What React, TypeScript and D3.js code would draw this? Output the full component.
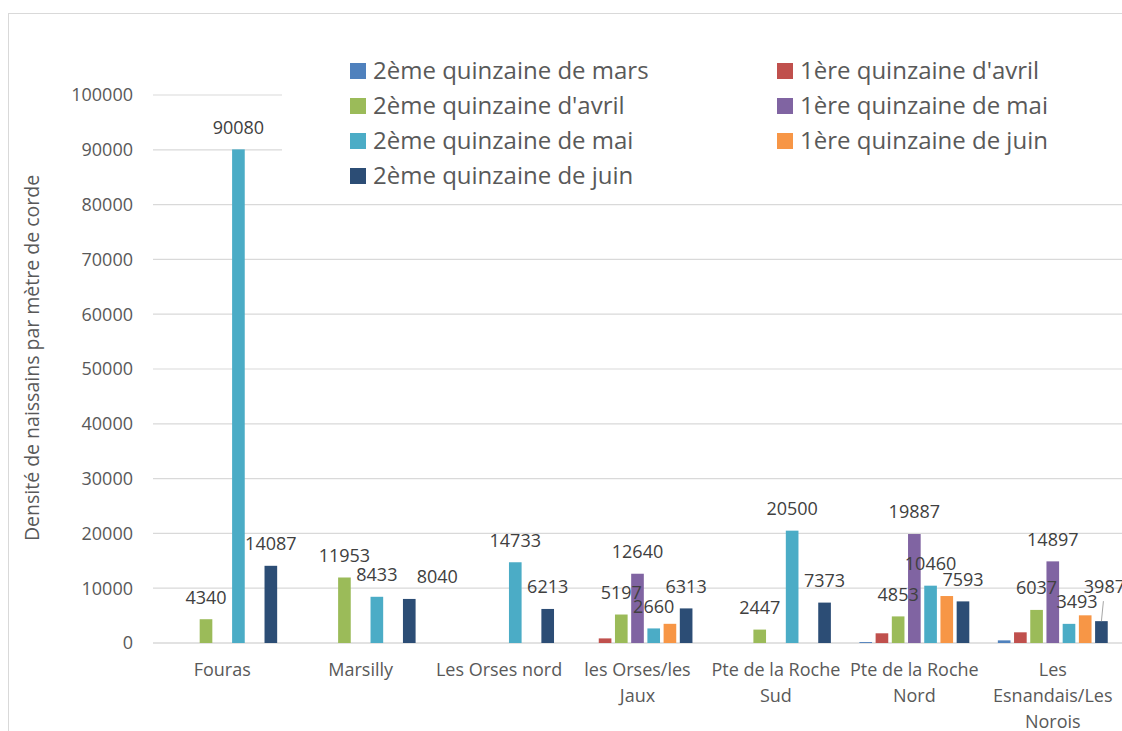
import React from 'react';
import * as d3 from 'd3';

const categories = [
  'Fouras',
  'Marsilly',
  'Les Orses nord',
  'les Orses/les Jaux',
  'Pte de la Roche Sud',
  'Pte de la Roche Nord',
  'Les Esnandais/Les Norois',
];

// wrapped tick labels, as the original wraps them
const categoryLines = [
  ['Fouras'],
  ['Marsilly'],
  ['Les Orses nord'],
  ['les Orses/les', 'Jaux'],
  ['Pte de la Roche', 'Sud'],
  ['Pte de la Roche', 'Nord'],
  ['Les', 'Esnandais/Les', 'Norois'],
];

const seriesNames = [
  '2ème quinzaine de mars',
  "1ère quinzaine d'avril",
  "2ème quinzaine d'avril",
  '1ère quinzaine de mai',
  '2ème quinzaine de mai',
  '1ère quinzaine de juin',
  '2ème quinzaine de juin',
];

const colors = ['#4F81BD', '#C0504D', '#9BBB59', '#8064A2', '#4BACC6', '#F79646', '#2C4D75'];

// one array per series, values per category
const marsB = [0, 0, 0, 0, 0, 170, 480];
const avrilA = [0, 0, 0, 840, 0, 1770, 1950];
const avrilB = [4340, 11953, 0, 5197, 2447, 4853, 6037];
const maiA = [0, 0, 0, 12640, 0, 19887, 14897];
const maiB = [90080, 8433, 14733, 2660, 20500, 10460, 3493];
const juinA = [0, 0, 0, 3500, 0, 8570, 5050];
const juinB = [14087, 8040, 6213, 6313, 7373, 7593, 3987];

const seriesValues = [marsB, avrilA, avrilB, maiA, maiB, juinA, juinB];

const yTicks = [0, 10000, 20000, 30000, 40000, 50000, 60000, 70000, 80000, 90000, 100000];

// labels that are not shown in the original (series-category)
const unlabeled = new Set(['0-5', '0-6', '1-3', '1-5', '1-6', '5-3', '5-5', '5-6']);
// labels moved by hand in the original
const labelShift: Record<string, { dx: number; dy: number; leader?: boolean }> = {
  '6-1': { dx: 28, dy: 0 },
  '4-6': { dx: 8, dy: 0 },
  '6-6': { dx: 3, dy: -12, leader: true },
};

const FONT = '"Open Sans", "Noto Sans", sans-serif';
const TEXT = '#595959';
const GRID = '#d9d9d9';

export default function App() {
  const left = 153;
  const right = 1122;
  const x = d3.scaleBand<string>().domain(categories).range([left, right]).padding(0);
  const inner = d3
    .scaleBand<number>()
    .domain(d3.range(seriesNames.length))
    .range([0, x.bandwidth()])
    .paddingInner(0.22)
    .paddingOuter(0.88);
  const y = d3.scaleLinear().domain([0, 100000]).range([643, 95]);
  const fmt = d3.format('d');

  return (
    <svg
      width={1122}
      height={731}
      style={{ position: 'absolute', left: 0, top: 0, fontFamily: FONT }}
    >
      <rect x={0} y={0} width={1122} height={731} fill="#fff" />
      <rect x={8.5} y={13.5} width={1200} height={800} fill="#fff" stroke={GRID} />

      {/* gridlines */}
      {yTicks.map((t) => (
        <line key={t} x1={left} x2={right} y1={y(t)} y2={y(t)} stroke={GRID} strokeWidth={t === 0 ? 1.5 : 1.2} />
      ))}
      {yTicks.map((t) => (
        <text key={'l' + t} x={133} y={y(t)} dy="0.35em" textAnchor="end" fontSize={18} fill={TEXT}>
          {fmt(t)}
        </text>
      ))}

      <text
        transform={`translate(32, 358) rotate(-90)`}
        textAnchor="middle"
        dy="0.35em"
        fontSize={19.5}
        fill={TEXT}
      >
        Densité de naissains par mètre de corde
      </text>

      {/* legend, white box hides the top gridlines */}
      <rect x={282} y={48} width={860} height={146} fill="#fff" />
      {seriesNames.map((name, i) => {
        const col = i % 2;
        const row = Math.floor(i / 2);
        const lx = col === 0 ? 350 : 777;
        const ly = 71 + row * 35;
        return (
          <g key={name}>
            <rect x={lx} y={ly - 8} width={16} height={16} fill={colors[i]} />
            <text x={lx + 23} y={ly} dy="0.35em" fontSize={24} fill={TEXT}>
              {name}
            </text>
          </g>
        );
      })}

      {/* bars */}
      {seriesValues.map((vals, s) => (
        <g key={s} fill={colors[s]}>
          {vals.map((v, c) =>
            v > 0 ? (
              <rect
                key={c}
                x={(x(categories[c]) as number) + (inner(s) as number)}
                width={inner.bandwidth()}
                y={y(v)}
                height={y(0) - y(v)}
              />
            ) : null
          )}
        </g>
      ))}

      {/* data labels */}
      {seriesValues.map((vals, s) =>
        vals.map((v, c) => {
          const key = `${s}-${c}`;
          if (v <= 0 || unlabeled.has(key)) return null;
          const cx = (x(categories[c]) as number) + (inner(s) as number) + inner.bandwidth() / 2;
          const sh = labelShift[key] || { dx: 0, dy: 0 };
          const ly = y(v) - 22 + sh.dy;
          return (
            <g key={'t' + key}>
              {sh.leader && (
                <line x1={cx + 2} y1={ly + 14} x2={cx} y2={y(v)} stroke="#a6a6a6" strokeWidth={1} />
              )}
              <text x={cx + sh.dx} y={ly} dy="0.35em" textAnchor="middle" fontSize={18} fill="#404040">
                {fmt(v)}
              </text>
            </g>
          );
        })
      )}

      {/* category labels */}
      {categoryLines.map((lines, c) => (
        <text
          key={categories[c]}
          x={(x(categories[c]) as number) + x.bandwidth() / 2}
          y={670}
          textAnchor="middle"
          fontSize={18}
          fill={TEXT}
        >
          {lines.map((ln, k) => (
            <tspan key={k} x={(x(categories[c]) as number) + x.bandwidth() / 2} y={670 + k * 26} dy="0.35em">
              {ln}
            </tspan>
          ))}
        </text>
      ))}
    </svg>
  );
}
